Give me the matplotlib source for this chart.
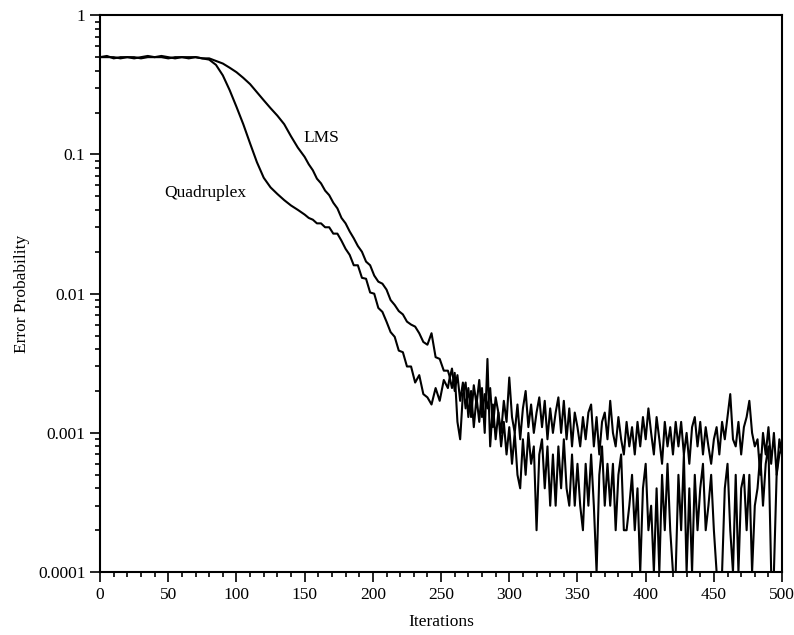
import numpy as np
import matplotlib
matplotlib.use("Agg")
import matplotlib.pyplot as plt
from matplotlib.ticker import MultipleLocator, FixedLocator, FixedFormatter, LogLocator, NullFormatter

plt.rcParams['font.family'] = ['Liberation Serif', 'DejaVu Serif']

# iteration grids for the three stretches of the curves
it_a = np.arange(0, 150, 5)
it_b = np.arange(150, 256, 3)
it_c = np.arange(256, 501, 2)
iters = np.concatenate([it_a, it_b, it_c])

# Quadruplex error probability
quad_a = [0.50, 0.51, 0.49, 0.50, 0.50, 0.49, 0.50, 0.51, 0.50, 0.50,
          0.49, 0.50, 0.50, 0.49, 0.50, 0.49, 0.48, 0.44, 0.37, 0.29,
          0.22, 0.165, 0.12, 0.088, 0.068, 0.058, 0.052, 0.047, 0.043, 0.040]
quad_b = [0.037, 0.035, 0.034, 0.032, 0.032, 0.030, 0.030, 0.027, 0.027, 0.024,
          0.021, 0.019, 0.016, 0.016, 0.013, 0.0128, 0.0102, 0.0100, 0.0079, 0.0074,
          0.0063, 0.0053, 0.0049, 0.0039, 0.0038, 0.0030, 0.0030, 0.0023, 0.0026, 0.0019,
          0.0018, 0.0016, 0.0021, 0.0017, 0.0024, 0.0021]
quad_c = [.0024, .0029, .0020, .0026, .0017, .0023, .0015, .0021, .0013, .0022,
          .0016, .0024, .0013, .0019, .0015, .0021, .0011, .0018, .0014, .0010,
          .0017, .0012, .0025, .0013, .0010, .0016, .0009, .0015, .0020, .0011,
          .0016, .0010, .0014, .0018, .0011, .0017, .0009, .0015, .0010, .0014,
          .0018, .0010, .0017, .0009, .0015, .0008, .0014, .0011, .0008, .0013,
          .0009, .0014, .0016, .0008, .0013, .0007, .0012, .0014, .0009, .0017,
          .0010, .0008, .0013, .0009, .0007, .0012, .0008, .0011, .0007, .0012,
          .0008, .0013, .0009, .0015, .0010, .0007, .0013, .0009, .0006, .0012,
          .0008, .0011, .0007, .0012, .0008, .0012, .0007, .0010, .0006, .0011,
          .0013, .0008, .0012, .0007, .0011, .0008, .0006, .0009, .0011, .0007,
          .0012, .0009, .0013, .0019, .0009, .0008, .0012, .0007, .0011, .0013,
          .0017, .0010, .0008, .0009, .0005, .0010, .0007, .0011, .0006, .0010,
          .0005, .0009, .0007]

# LMS error probability
lms_a = [0.50, 0.50, 0.50, 0.49, 0.50, 0.50, 0.49, 0.50, 0.50, 0.51,
         0.50, 0.49, 0.50, 0.50, 0.50, 0.49, 0.49, 0.47, 0.45, 0.42,
         0.39, 0.355, 0.32, 0.28, 0.245, 0.215, 0.19, 0.165, 0.135, 0.112]
lms_b = [0.096, 0.085, 0.077, 0.067, 0.062, 0.055, 0.051, 0.045, 0.041, 0.035,
         0.032, 0.028, 0.025, 0.022, 0.020, 0.017, 0.0160, 0.0135, 0.0122, 0.0118,
         0.0107, 0.0090, 0.0083, 0.0075, 0.0071, 0.0063, 0.0060, 0.0058, 0.0052, 0.0045,
         0.0043, 0.0052, 0.0035, 0.0034, 0.0028, 0.0028]
lms_c = [.0026, .0021, .0027, .0012, .0009, .0019, .0023, .0013, .0020, .0011,
         .0018, .0012, .0021, .0010, .0034, .0008, .0016, .0009, .0014, .0008,
         .0012, .0007, .0011, .0006, .0010, .0005, .0004, .0009, .0005, .0010,
         .0006, .0008, .0002, .0007, .0009, .0004, .0008, .0003, .0007, .0003,
         .0008, .0004, .0009, .0004, .0003, .0007, .0003, .0006, .0003, .0002,
         .0006, .0003, .0007, .0003, .0001, .0005, .0008, .0003, .0006, .0003,
         .0006, .0002, .0005, .0007, .0002, .0002, .0003, .0005, .0002, .0004,
         .0001, .0004, .0006, .0002, .0003, .0001, .0004, .0001, .0005, .0002,
         .0006, .0002, .0001, .0001, .0005, .0002, .0007, .0001, .0004, .0001,
         .0005, .0002, .0004, .0006, .0002, .0003, .0005, .0002, .0001, .0001,
         .0001, .0004, .0006, .0002, .0001, .0005, .0001, .0004, .0005, .0002,
         .0005, .0001, .0003, .0004, .0007, .0003, .0006, .0008, .0001, .0001,
         .0005, .0007, .0008]

quad = np.array(quad_a + quad_b + quad_c)
lms = np.array(lms_a + lms_b + lms_c)

fig = plt.figure(figsize=(7.94, 6.35), dpi=100)
ax = fig.add_axes([0.126, 0.099, 0.859, 0.877])

ax.plot(iters, lms, color='black', linewidth=1.5)
ax.plot(iters, quad, color='black', linewidth=1.5)

ax.set_yscale('log')
ax.set_xlim(0, 500)
ax.set_ylim(0.0001, 1)

ax.xaxis.set_major_locator(MultipleLocator(50))
ax.xaxis.set_minor_locator(MultipleLocator(10))
ax.yaxis.set_major_locator(FixedLocator([0.0001, 0.001, 0.01, 0.1, 1]))
ax.yaxis.set_major_formatter(FixedFormatter(['0.0001', '0.001', '0.01', '0.1', '1']))
ax.yaxis.set_minor_locator(LogLocator(base=10, subs=np.arange(2, 10)))
ax.yaxis.set_minor_formatter(NullFormatter())

ax.tick_params(which='both', direction='out', top=False, right=False,
               labelsize=12.5, width=1.2)
ax.tick_params(which='major', length=7)
ax.tick_params(which='minor', length=3.5)
for sp in ax.spines.values():
    sp.set_linewidth(1.5)

ax.text(162, 0.132, 'LMS', fontsize=12.5, ha='center', va='center')
ax.text(77, 0.0533, 'Quadruplex', fontsize=12.5, ha='center', va='center')

ax.set_xlabel('Iterations', fontsize=12.5, labelpad=8)
ax.set_ylabel('Error Probability', fontsize=12.5, labelpad=6)

fig.savefig('out.png', dpi=100)
